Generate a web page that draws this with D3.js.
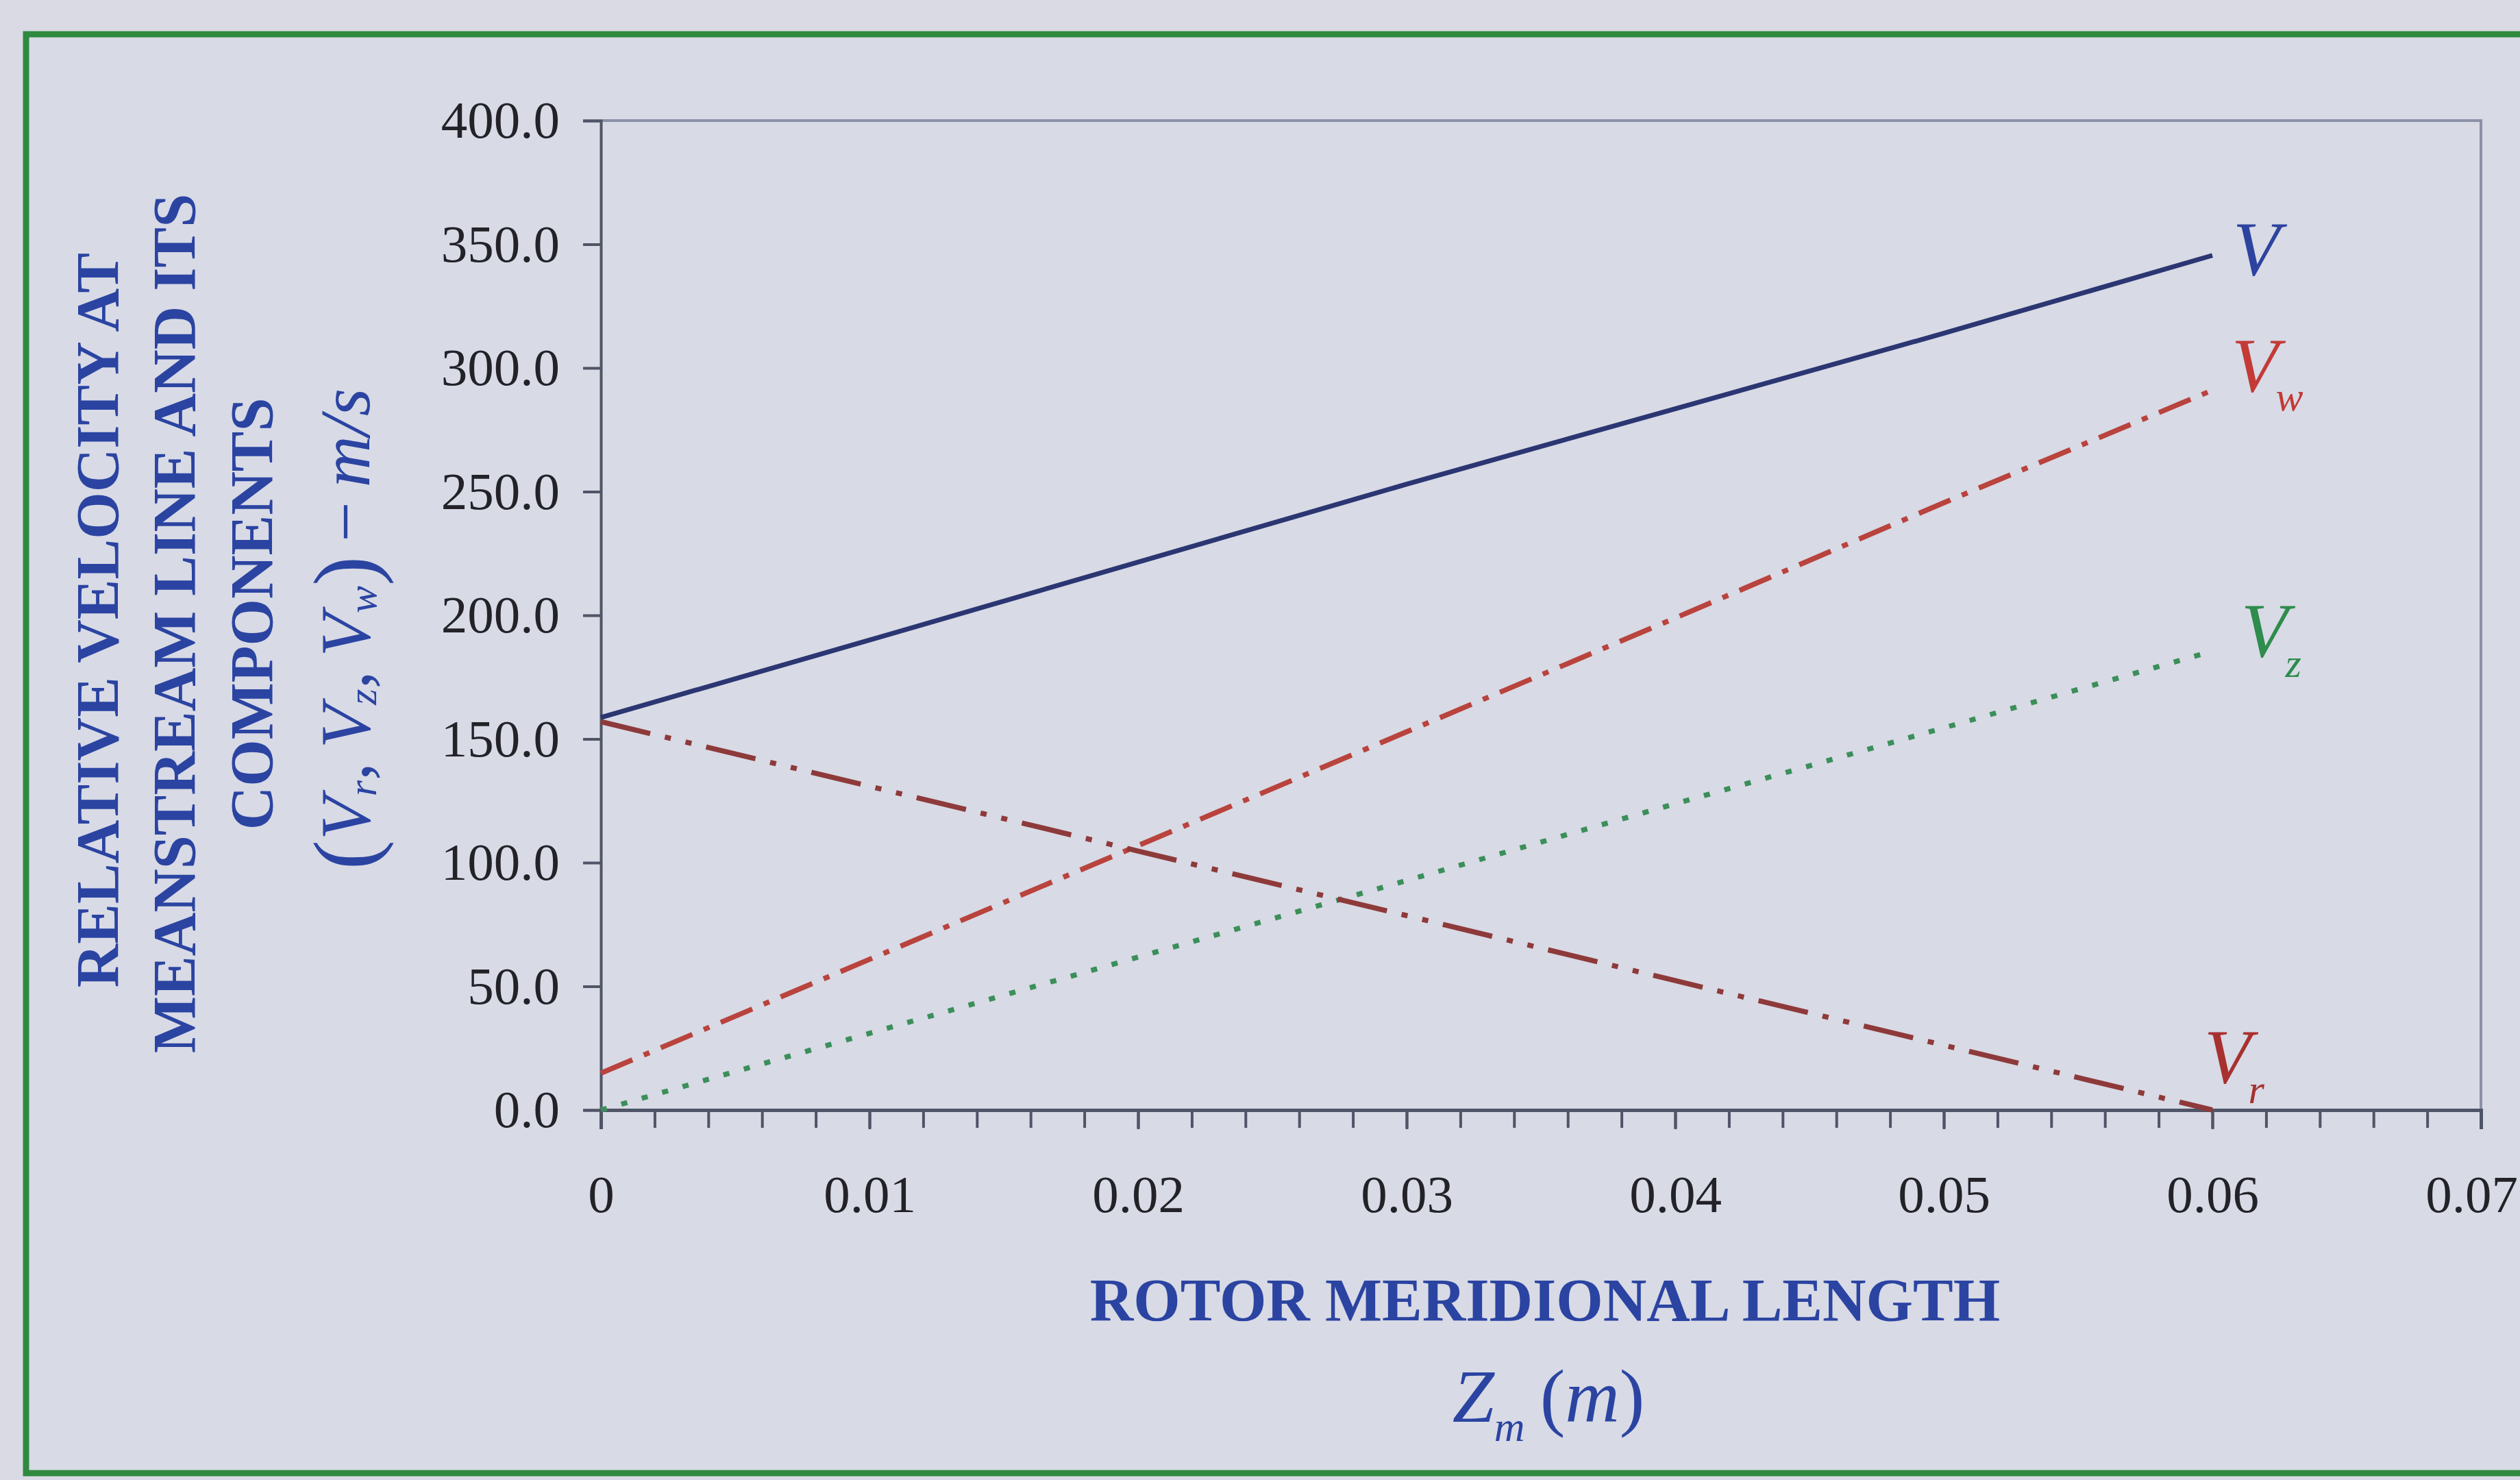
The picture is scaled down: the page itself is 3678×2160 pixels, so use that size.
<!DOCTYPE html>
<html><head><meta charset="utf-8">
<script src="https://cdn.jsdelivr.net/npm/d3@7"></script>
<style>
html,body{margin:0;padding:0;background:#d9dae4;}
svg{display:block;}
</style></head><body>
<svg id="c" width="3678" height="2160"></svg>
<script>
// ---- data ----
const zm      = [0, 0.01, 0.02, 0.03, 0.04, 0.05, 0.06];
const vTotal  = [158.7, 190.0, 221.5, 253.0, 283.5, 314.0, 345.5];
const vW      = [14.9, 60.9, 106.9, 152.9, 198.9, 245.5, 291.0];
const vZ      = [0.0, 31.0, 61.8, 92.8, 123.8, 154.5, 185.5];
const vR      = [157.0, 130.9, 104.7, 78.6, 52.3, 26.2, 0.0];
const yTicks  = [0, 50, 100, 150, 200, 250, 300, 350, 400];
const yTickLabels = ["0.0","50.0","100.0","150.0","200.0","250.0","300.0","350.0","400.0"];
const xTicks  = [0, 0.01, 0.02, 0.03, 0.04, 0.05, 0.06, 0.07];
const xTickLabels = ["0","0.01","0.02","0.03","0.04","0.05","0.06","0.07"];
const yTitleLines = ["RELATIVE VELOCITY AT", "MEANSTREAM LINE AND ITS", "COMPONENTS"];
const xTitle = "ROTOR MERIDIONAL LENGTH";

const svg = d3.select("#c");
const serif = "'Liberation Serif','Times New Roman',serif";
const titleBlue = "#2b44a2";

// background & frame
svg.append("rect").attr("x",0).attr("y",0).attr("width",3678).attr("height",2160).attr("fill","#d9dae4");
svg.append("rect").attr("x",38).attr("y",50).attr("width",3700).attr("height",2100)
  .attr("fill","#d8dae5").attr("stroke","#2f8a3f").attr("stroke-width",9);

const L = 877, R = 3621, T = 176, B = 1620;
const x = d3.scaleLinear().domain([0, 0.07]).range([L, R]);
const y = d3.scaleLinear().domain([0, 400]).range([B, T]);

// plot border (top/right)
svg.append("path").attr("d", `M${L},${T}H${R}V${B}`).attr("fill","none")
  .attr("stroke","#8c91a8").attr("stroke-width",4);

// y axis
const yAxis = d3.axisLeft(y).tickValues(yTicks).tickSize(26).tickPadding(34)
  .tickFormat((d,i)=>yTickLabels[i]);
const gy = svg.append("g").attr("transform",`translate(${L},0)`).call(yAxis);
gy.select(".domain").attr("stroke","#4f5466").attr("stroke-width",4);
gy.selectAll(".tick line").attr("stroke","#4f5466").attr("stroke-width",4);
gy.selectAll("text").attr("font-family",serif).attr("font-size",77).attr("fill","#222228");

// x axis minor ticks
const minor = d3.range(0,36).map(i=>i*0.002);
const xMinor = d3.axisBottom(x).tickValues(minor).tickSize(26).tickFormat("");
const gxm = svg.append("g").attr("transform",`translate(0,${B})`).call(xMinor);
gxm.select(".domain").remove();
gxm.selectAll(".tick line").attr("stroke","#4f5466").attr("stroke-width",4);

// x axis
const xAxis = d3.axisBottom(x).tickValues(xTicks).tickSize(28).tickPadding(66)
  .tickFormat((d,i)=>xTickLabels[i]);
const gx = svg.append("g").attr("transform",`translate(0,${B})`).call(xAxis);
gx.select(".domain").attr("stroke","#4f5466").attr("stroke-width",5);
gx.selectAll(".tick line").attr("stroke","#4f5466").attr("stroke-width",4);
gx.selectAll("text").attr("font-family",serif).attr("font-size",77).attr("fill","#222228");
// last label sits at the picture's right edge: keep it fully inside
gx.selectAll(".tick text").filter((d,i)=>i===xTicks.length-1).attr("dx",-14);

// series
const series = [
  {vals: vTotal, color:"#2b3672", dash:null, w:7},
  {vals: vW, color:"#b9433d", dash:"50 18 9 18", w:7.5},
  {vals: vZ, color:"#3b8f5a", dash:"9 22", w:7.5},
  {vals: vR, color:"#8e3a3a", dash:"74 22 9 22 9 22", w:7.5}
];
const line = d3.line().x((d,i)=>x(zm[i])).y(d=>y(d));
series.forEach(s=>{
  const p = svg.append("path").datum(s.vals).attr("d",line).attr("fill","none")
    .attr("stroke",s.color).attr("stroke-width",s.w).attr("stroke-linejoin","round");
  if (s.dash) p.attr("stroke-dasharray",s.dash);
});

// series labels
const last = zm.length-1;
function seriesLabel(xx, yy, sub, color, subDy){
  const t = svg.append("text").attr("x",xx).attr("y",yy)
    .attr("font-family",serif).attr("font-style","italic").attr("fill",color);
  t.append("tspan").attr("font-size",112).text("V");
  if (sub) t.append("tspan").attr("font-size",60).attr("dy",subDy).attr("dx",-4).text(sub);
}
seriesLabel(x(zm[last])+30, y(vTotal[last])+28, null, "#2d43a0", 0);
seriesLabel(x(zm[last])+28, y(vW[last])+2, "w", "#c33a36", 28);
seriesLabel(x(zm[last])+42, y(vZ[last])+8, "z", "#2e8c4c", 30);
seriesLabel(x(zm[last])-12, y(vR[last])-40, "r", "#a8302f", 30);

// y title
const yt = [{x:142,y:905},{x:254,y:910},{x:367,y:896}];
yTitleLines.forEach((s,i)=>{
  svg.append("text").attr("transform",`translate(${yt[i].x},${yt[i].y}) rotate(-90)`)
    .attr("text-anchor","middle").attr("dominant-baseline","central")
    .attr("font-family",serif).attr("font-weight","bold").attr("font-size",88)
    .attr("fill",titleBlue).text(s);
});
// math line
const m = svg.append("text").attr("transform",`translate(503,918) rotate(-90)`)
  .attr("text-anchor","middle").attr("dominant-baseline","central")
  .attr("font-family",serif).attr("font-size",104).attr("fill",titleBlue);
m.append("tspan").attr("font-size",130).text("(");
m.append("tspan").attr("font-style","italic").text("V");
m.append("tspan").attr("font-style","italic").attr("font-size",60).attr("dy",26).text("r");
m.append("tspan").attr("dy",-26).text(",\u2009");
m.append("tspan").attr("font-style","italic").text("V");
m.append("tspan").attr("font-style","italic").attr("font-size",60).attr("dy",26).text("z");
m.append("tspan").attr("dy",-26).text(",\u2009");
m.append("tspan").attr("font-style","italic").text("V");
m.append("tspan").attr("font-style","italic").attr("font-size",60).attr("dy",26).text("w");
m.append("tspan").attr("dy",-26).attr("font-size",130).text(")");
m.append("tspan").text("\u2009\u2212\u2009");
m.append("tspan").attr("font-style","italic").text("m/s");

// x title
svg.append("text").attr("x",2255).attr("y",1927).attr("text-anchor","middle")
  .attr("font-family",serif).attr("font-weight","bold").attr("font-size",88)
  .attr("fill",titleBlue).text(xTitle);
const z = svg.append("text").attr("x",2260).attr("y",2075).attr("text-anchor","middle")
  .attr("font-family",serif).attr("font-size",110).attr("fill",titleBlue);
z.append("tspan").attr("font-style","italic").text("Z");
z.append("tspan").attr("font-style","italic").attr("font-size",62).attr("dy",28).text("m");
z.append("tspan").attr("dy",-28).text("\u2009(");
z.append("tspan").attr("font-style","italic").text("m");
z.append("tspan").text(")");
</script>
</body></html>
